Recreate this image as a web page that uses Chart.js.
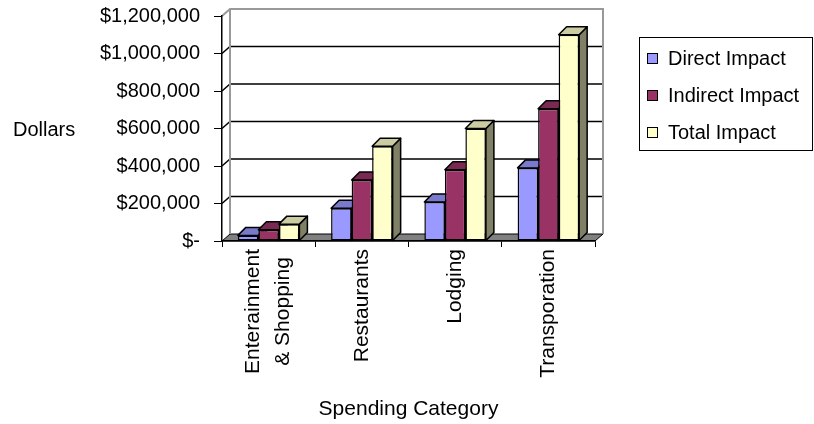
<!DOCTYPE html>
<html>
<head>
<meta charset="utf-8">
<script src="https://cdn.jsdelivr.net/npm/chart.js@4.4.0/dist/chart.umd.min.js"></script>
<style>
  html, body { margin: 0; padding: 0; background: #fff; }
  #wrap { width: 814px; height: 424px; }
</style>
</head>
<body>
<div id="wrap"><canvas id="impactChart" width="814" height="424"></canvas></div>
<script>
const categories = [['Enterainment', '& Shopping'], 'Restaurants', 'Lodging', 'Transporation'];
const seriesNames = ['Direct Impact', 'Indirect Impact', 'Total Impact'];
const directImpact = [30000, 175000, 208000, 390000];
const indirectImpact = [60000, 325000, 380000, 705000];
const totalImpact = [90000, 505000, 600000, 1100000];
const yTickLabels = ['$-', '$200,000', '$400,000', '$600,000', '$800,000', '$1,000,000', '$1,200,000'];
const yTitle = 'Dollars';
const xTitle = 'Spending Category';

const FONT = "'Liberation Sans', Arial, sans-serif";
// front / top / side shading per series
const faceColors = [
  { front: '#9999FF', top: '#7A7ACC', side: '#4D4D80' },
  { front: '#993366', top: '#7A2952', side: '#4D1A33' },
  { front: '#FFFFCC', top: '#CCCCA3', side: '#808066' }
];
const WALL = { dx: 8, dy: 7 };
const BAR = { dx: 8, dy: 8 };

function poly(ctx, pts, fill) {
  ctx.beginPath();
  ctx.moveTo(pts[0][0], pts[0][1]);
  for (let k = 1; k < pts.length; k++) ctx.lineTo(pts[k][0], pts[k][1]);
  ctx.closePath();
  ctx.fillStyle = fill;
  ctx.fill();
  ctx.stroke();
}

// back wall, side wall and floor, drawn under the axes
const wallsPlugin = {
  id: 'walls',
  beforeDraw(chart) {
    const { ctx, chartArea: a, scales: { y } } = chart;
    const { dx, dy } = WALL;
    ctx.save();
    ctx.strokeStyle = '#000';
    ctx.lineWidth = 1;
    poly(ctx, [[a.left, a.bottom], [a.left + dx, a.bottom - dy], [a.right + dx, a.bottom - dy], [a.right, a.bottom]], '#808080');

    ctx.lineWidth = 1.5;
    y.ticks.forEach(t => {
      if (t.value <= y.min || t.value >= y.max) return;
      const py = y.getPixelForValue(t.value);
      ctx.beginPath();
      ctx.moveTo(a.left, py);
      ctx.lineTo(a.left + dx, py - dy);
      ctx.lineTo(a.right + dx, py - dy);
      ctx.stroke();
    });

    ctx.strokeStyle = '#999';
    ctx.lineWidth = 2;
    ctx.beginPath();
    ctx.moveTo(a.left, a.top);
    ctx.lineTo(a.left + dx, a.top - dy);
    ctx.lineTo(a.right + dx, a.top - dy);
    ctx.lineTo(a.right + dx, a.bottom - dy);
    ctx.moveTo(a.left + dx, a.top - dy);
    ctx.lineTo(a.left + dx, a.bottom - dy);
    ctx.stroke();
    ctx.restore();
  }
};

// tops and right sides of the columns; the library draws the fronts over them
const barDepthPlugin = {
  id: 'barDepth',
  beforeDatasetsDraw(chart) {
    const { ctx } = chart;
    const { dx, dy } = BAR;
    ctx.save();
    ctx.strokeStyle = '#000';
    ctx.lineWidth = 1.5;
    ctx.lineJoin = 'round';
    for (let j = 0; j < chart.data.labels.length; j++) {
      chart.data.datasets.forEach((ds, i) => {
        const bar = chart.getDatasetMeta(i).data[j];
        const { x, y, base, width } = bar.getProps(['x', 'y', 'base', 'width'], true);
        const l = x - width / 2, r = x + width / 2;
        poly(ctx, [[r, y], [r + dx, y - dy], [r + dx, base - dy], [r, base]], faceColors[i].side);
        poly(ctx, [[l, y], [l + dx, y - dy], [r + dx, y - dy], [r, y]], faceColors[i].top);
      });
    }
    ctx.restore();
  }
};

// category labels, y title and boxed legend
const labelsPlugin = {
  id: 'labels',
  afterDraw(chart) {
    const { ctx, scales: { x } } = chart;
    ctx.save();
    ctx.fillStyle = '#000';

    ctx.font = `21px ${FONT}`;
    const lh = 30;
    categories.forEach((lab, i) => {
      const lines = Array.isArray(lab) ? lab : [lab];
      const px = x.getPixelForTick(i);
      const maxW = Math.max(...lines.map(s => ctx.measureText(s).width));
      lines.forEach((s, k) => {
        ctx.save();
        ctx.translate(px + (k - (lines.length - 1) / 2) * lh, x.top + 8 + maxW / 2);
        ctx.rotate(-Math.PI / 2);
        ctx.textAlign = 'center';
        ctx.textBaseline = 'middle';
        ctx.fillText(s, 0, 0);
        ctx.restore();
      });
    });

    ctx.font = `20px ${FONT}`;
    ctx.textAlign = 'left';
    ctx.textBaseline = 'alphabetic';
    ctx.fillText(yTitle, 13, 136);

    // legend
    ctx.strokeStyle = '#000';
    ctx.lineWidth = 1;
    ctx.strokeRect(639.5, 37.5, 173, 113);
    ctx.textBaseline = 'middle';
    chart.data.datasets.forEach((ds, i) => {
      const cy = 59 + i * 37;
      ctx.fillStyle = ds.backgroundColor;
      ctx.fillRect(647, cy - 6, 11, 11);
      ctx.strokeRect(647.5, cy - 5.5, 10, 10);
      ctx.fillStyle = '#000';
      ctx.fillText(ds.label, 668, cy);
    });
    ctx.restore();
  }
};

const seriesData = [directImpact, indirectImpact, totalImpact];

new Chart(document.getElementById('impactChart'), {
  type: 'bar',
  data: {
    labels: categories,
    datasets: seriesNames.map((name, i) => ({
      label: name,
      data: seriesData[i],
      backgroundColor: faceColors[i].front,
      borderColor: '#000',
      borderWidth: 1.5,
      borderSkipped: false,
      categoryPercentage: 0.66,
      barPercentage: 1
    }))
  },
  options: {
    responsive: false,
    animation: false,
    devicePixelRatio: 1,
    layout: { padding: { top: 16, right: 219, left: 0, bottom: 0 } },
    plugins: { legend: { display: false }, tooltip: { enabled: false } },
    scales: {
      x: {
        grid: { drawOnChartArea: false, drawTicks: true, tickLength: 6, color: '#000', offset: true },
        border: { display: true, color: '#000', width: 1.5 },
        ticks: { display: false },
        title: { display: true, text: xTitle, color: '#000', font: { family: FONT, size: 21 }, padding: { top: 4, bottom: 2 } },
        afterFit(s) { s.height = 183; s.paddingLeft = 0; s.paddingRight = 0; }
      },
      y: {
        min: 0,
        max: 1200000,
        ticks: {
          stepSize: 200000,
          callback: (v, i) => yTickLabels[i],
          color: '#000',
          font: { family: FONT, size: 20 },
          padding: 14
        },
        grid: { drawOnChartArea: false, tickLength: 8, color: '#000' },
        border: { display: true, color: '#000', width: 1.5 },
        afterFit(s) { s.width = 222; s.paddingTop = 0; s.paddingBottom = 0; }
      }
    }
  },
  plugins: [wallsPlugin, barDepthPlugin, labelsPlugin]
});
</script>
</body>
</html>
